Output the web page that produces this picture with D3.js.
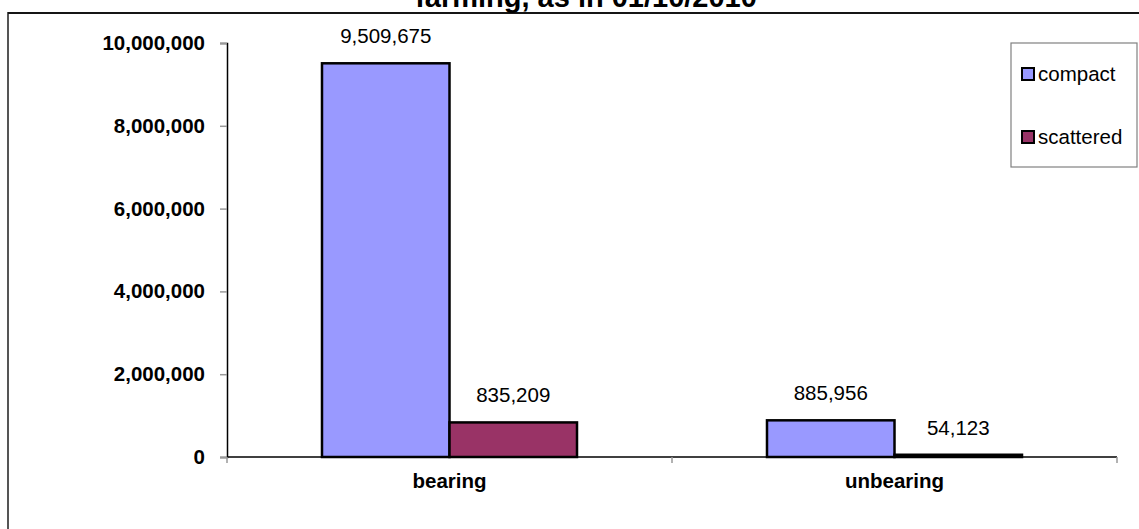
<!DOCTYPE html>
<html><head><meta charset="utf-8">
<script src="https://cdn.jsdelivr.net/npm/d3@7"></script>
<style>
html,body{margin:0;padding:0;background:#fff;overflow:hidden;}
text{font-family:"Liberation Sans",Arial,sans-serif;}
</style></head>
<body>
<svg id="chart" width="1139" height="529"></svg>
<script>
const categories = ["bearing", "unbearing"];
const seriesNames = ["compact", "scattered"];
const compactValues = [9509675, 885956];
const scatteredValues = [835209, 54123];
const yTicks = [0, 2000000, 4000000, 6000000, 8000000, 10000000];
const titleText = "farming, as in 01/10/2010";
const colors = ["#9999FF", "#993366"];

const seriesValues = [compactValues, scatteredValues];
const svg = d3.select("#chart");

// outer chart border
svg.append("rect").attr("x", 8).attr("y", 13).attr("width", 1160).attr("height", 560)
  .attr("fill", "#fff").attr("stroke", "#555").attr("stroke-width", 2);
svg.append("line").attr("x1", 8).attr("x2", 1139).attr("y1", 13).attr("y2", 13)
  .attr("stroke", "#000").attr("stroke-width", 1.5);

// title (first line is outside the frame)
svg.append("text").attr("x", 586).attr("y", 7).attr("text-anchor", "middle")
  .attr("font-size", 29).attr("font-weight", "bold").text(titleText);

const x0 = d3.scaleBand().domain(categories).range([227, 1117]).paddingInner(0).paddingOuter(0);
const x1 = d3.scaleBand().domain(seriesNames).range([0, x0.bandwidth()]).paddingInner(0).paddingOuter(0.745);
const y = d3.scaleLinear().domain([0, 10000000]).range([457, 43]);
const fmt = d3.format(",");

// y axis
const yAxis = svg.append("g").attr("transform", "translate(227,0)")
  .call(d3.axisLeft(y).tickValues(yTicks).tickFormat(fmt).tickSize(7).tickPadding(15));
yAxis.select(".domain").attr("stroke", "#000").attr("stroke-width", 1.5);
yAxis.selectAll(".tick line").attr("stroke", "#999").attr("stroke-width", 1.5);
yAxis.selectAll(".tick text").attr("font-size", 20.5).attr("font-weight", "bold")
  .attr("fill", "#000").style("font-family", '"Liberation Sans",Arial,sans-serif');

// bars
const groups = svg.selectAll("g.cat").data(categories).join("g").attr("class", "cat")
  .attr("transform", d => `translate(${x0(d)},0)`);
groups.selectAll("rect").data((c, ci) => seriesNames.map((s, si) => ({s, si, v: seriesValues[si][ci]})))
  .join("rect")
  .attr("x", d => x1(d.s)).attr("width", x1.bandwidth())
  .attr("y", d => y(d.v)).attr("height", d => y(0) - y(d.v))
  .attr("fill", d => colors[d.si]).attr("stroke", "#000").attr("stroke-width", 2.5);

// x axis
const xAxisLine = svg.append("line").attr("x1", 227).attr("x2", 1117).attr("y1", y(0)).attr("y2", y(0))
  .attr("stroke", "#000").attr("stroke-width", 1.5);
const bounds = [x0.range()[0], ...categories.map(c => x0(c) + x0.bandwidth())];
svg.selectAll("line.xtick").data(bounds).join("line").attr("class", "xtick")
  .attr("x1", d => d).attr("x2", d => d).attr("y1", y(0)).attr("y2", y(0) + 6)
  .attr("stroke", "#999").attr("stroke-width", 1.5);
svg.selectAll("text.xlab").data(categories).join("text").attr("class", "xlab")
  .attr("x", d => x0(d) + x0.bandwidth() / 2).attr("y", 488)
  .attr("text-anchor", "middle").attr("font-size", 20.5).attr("font-weight", "bold").text(d => d);

// value labels
groups.selectAll("text.val").data((c, ci) => seriesNames.map((s, si) => ({s, si, v: seriesValues[si][ci]})))
  .join("text").attr("class", "val")
  .attr("x", d => x1(d.s) + x1.bandwidth() / 2).attr("y", d => y(d.v) - 20)
  .attr("text-anchor", "middle").attr("font-size", 20.5).text(d => fmt(d.v));

// legend
const lg = svg.append("g");
lg.append("rect").attr("x", 1011).attr("y", 43).attr("width", 126).attr("height", 124)
  .attr("fill", "#fff").attr("stroke", "#808080").attr("stroke-width", 1.2);
seriesNames.forEach((s, i) => {
  const yy = 68 + i * 63;
  lg.append("rect").attr("x", 1022).attr("y", yy).attr("width", 12).attr("height", 12)
    .attr("fill", colors[i]).attr("stroke", "#000").attr("stroke-width", 2);
  lg.append("text").attr("x", 1038).attr("y", yy + 13).attr("font-size", 20.5).text(s);
});
</script>
</body></html>
